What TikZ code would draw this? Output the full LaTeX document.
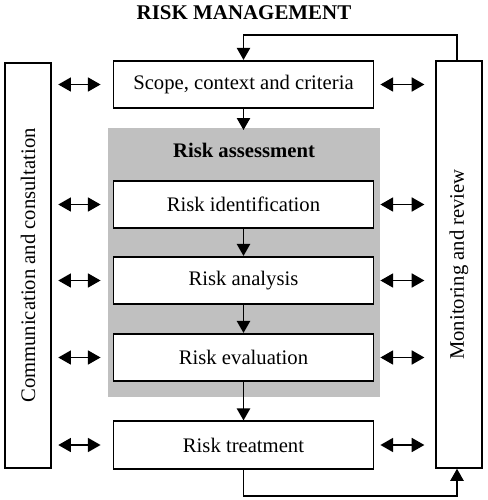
\documentclass[tikz,border=0pt]{standalone}
\usepackage{fontspec}
\setmainfont{Liberation Serif}
\usetikzlibrary{arrows.meta,calc}
\definecolor{assessgray}{RGB}{192,192,192}
\begin{document}
\begin{tikzpicture}[x=0.75pt,y=-0.75pt,
  txt/.style={font=\fontsize{15.5}{18}\selectfont},
  stepbox/.style={txt,draw,line width=1.4pt,fill=white,minimum width=195pt,minimum height=35.5pt,inner sep=0pt},
  sidebox/.style={txt,draw,line width=1.4pt,fill=white,inner sep=0pt,minimum height=35pt},
  flow/.style={line width=1.1pt,-{Triangle[length=9pt,width=10pt]}},
  dbl/.style={line width=1.2pt,{Triangle[length=9.5pt,width=10.5pt]}-{Triangle[length=9.5pt,width=10.5pt]}},
  loopline/.style={line width=0.9pt}]
\useasboundingbox (0,0) rectangle (487,500);
\fill[white] (0,0) rectangle (487,500);
\node[font=\fontsize{15.7}{18}\bfseries\selectfont] (title) at (244,13) {RISK MANAGEMENT};
\fill[assessgray] (108,128) rectangle (380,397);
\node[font=\fontsize{15.5}{18}\bfseries\selectfont] (assess) at (244,150) {Risk assessment};
\node[stepbox] (scope) at (243.5,84.5) {Scope, context and criteria};
\node[stepbox] (ident) at (243.5,204.5) {Risk identification};
\node[stepbox] (anal) at (243.5,280.5) {Risk analysis};
\node[stepbox] (eval) at (243.5,357.5) {Risk evaluation};
\node[stepbox] (treat) at (243.5,445) {Risk treatment};
\node[sidebox,minimum width=304pt,rotate=90] (comm) at (28,265.5) {Communication and consultation};
\node[sidebox,minimum width=305pt,minimum height=34.5pt,rotate=90] (mon) at (459,264.5) {Monitoring and review};
% main flow
\coordinate (gtop) at (243.5,130);
\draw[flow] (scope.south) -- (gtop);
\draw[flow] (ident.south) -- (anal.north);
\draw[flow] (anal.south) -- (eval.north);
\draw[flow] (eval.south) -- (treat.north);
% feedback loops
\coordinate (ltop) at (457,35);
\coordinate (lbot) at (457,496);
\draw[loopline,-{Triangle[length=9pt,width=10pt]}] (ltop |- mon.east) -- (ltop) -| (scope.north);
\draw[loopline,-{Triangle[length=9pt,width=10pt]}] (treat.south) |- (lbot) -- (lbot |- mon.west);
% communication arrows
\foreach \n in {scope,ident,anal,eval,treat}{
  \draw[dbl] ([xshift=4.5pt]comm.south |- \n.west) -- ([xshift=-9pt]\n.west);
  \draw[dbl] ([xshift=4.5pt]\n.east) -- ([xshift=-8pt]mon.north |- \n.east);
}
\end{tikzpicture}
\end{document}
